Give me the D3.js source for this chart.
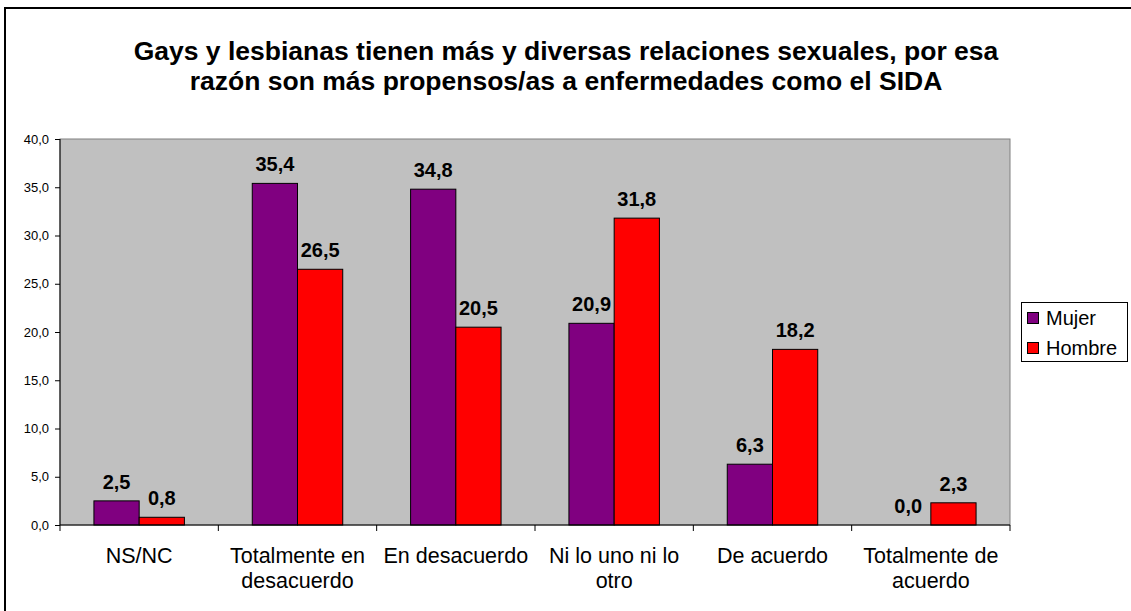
<!DOCTYPE html>
<html>
<head>
<meta charset="utf-8">
<script src="https://cdn.jsdelivr.net/npm/d3@7"></script>
<style>
  body { margin: 0; background: #fff; }
  text { font-family: Arial, "Liberation Sans", sans-serif; }
</style>
</head>
<body>
<svg id="chart" width="1131" height="611"></svg>
<script>
const titleLines = ["Gays y lesbianas tienen más y diversas relaciones sexuales, por esa",
                    "razón son más propensos/as a enfermedades como el SIDA"];
const categories = ["NS/NC", "Totalmente en desacuerdo", "En desacuerdo", "Ni lo uno ni lo otro", "De acuerdo", "Totalmente de acuerdo"];
const categoryLines = [["NS/NC"], ["Totalmente en", "desacuerdo"], ["En desacuerdo"], ["Ni lo uno ni lo", "otro"], ["De acuerdo"], ["Totalmente de", "acuerdo"]];
const seriesNames = ["Mujer", "Hombre"];
const mujer = [2.5, 35.4, 34.8, 20.9, 6.3, 0.0];
const hombre = [0.8, 26.5, 20.5, 31.8, 18.2, 2.3];
const yTicks = [0, 5, 10, 15, 20, 25, 30, 35, 40];
const colors = ["#800080", "#FF0000"];

const svg = d3.select("#chart");
const plot = {left: 60, right: 1010, top: 139, bottom: 525};

// outer frame
svg.append("rect").attr("x", 5).attr("y", 8).attr("width", 1140).attr("height", 620)
  .attr("fill", "none").attr("stroke", "#000").attr("stroke-width", 2);

// title
const title = svg.append("text").attr("text-anchor", "middle")
  .attr("font-weight", "bold").attr("font-size", 26.5).attr("fill", "#000");
titleLines.forEach((l, i) => title.append("tspan").attr("x", 566).attr("y", 60 + i * 30).text(l));

const x0 = d3.scaleBand().domain(categories).range([plot.left, plot.right]).padding(0);
const x1 = d3.scaleBand().domain(seriesNames).range([0, x0.bandwidth()]).paddingInner(0).paddingOuter(0.75);
const y = d3.scaleLinear().domain([0, 40]).range([plot.bottom, plot.top]);

// plot background
svg.append("rect").attr("x", plot.left).attr("y", plot.top)
  .attr("width", plot.right - plot.left).attr("height", plot.bottom - plot.top)
  .attr("fill", "#C0C0C0").attr("stroke", "#808080").attr("stroke-width", 1);

// bars
const data = categories.map((c, i) => ({cat: c, vals: [mujer[i], hombre[i]]}));
const groups = svg.append("g").selectAll("g").data(data).join("g")
  .attr("transform", d => `translate(${x0(d.cat)},0)`);
groups.selectAll("rect").data(d => d.vals.map((v, j) => ({s: seriesNames[j], v, j}))).join("rect")
  .attr("x", d => x1(d.s)).attr("width", x1.bandwidth())
  .attr("y", d => y(d.v)).attr("height", d => y(0) - y(d.v))
  .attr("fill", d => colors[d.j]).attr("stroke", "#000").attr("stroke-width", 1);
groups.selectAll("text").data(d => d.vals.map((v, j) => ({s: seriesNames[j], v, j}))).join("text")
  .attr("x", d => x1(d.s) + x1.bandwidth() / 2).attr("y", d => y(d.v) - 12)
  .attr("text-anchor", "middle").attr("font-weight", "bold").attr("font-size", 20)
  .text(d => d3.format(".1f")(d.v).replace(".", ","));

// y axis
const yAxis = d3.axisLeft(y).tickValues(yTicks).tickSize(5).tickSizeOuter(0)
  .tickFormat(d => d3.format(".1f")(d).replace(".", ","));
const gy = svg.append("g").attr("transform", `translate(${plot.left},0)`).call(yAxis);
gy.select(".domain").attr("stroke", "#000").attr("d", `M0,${plot.top}V${plot.bottom}`);
gy.selectAll(".tick line").attr("stroke", "#000");
gy.selectAll(".tick text").attr("font-size", 13).attr("fill", "#000").attr("font-family", "Arial, 'Liberation Sans', sans-serif").attr("x", -11);

// x axis
const gx = svg.append("g").attr("transform", `translate(0,${plot.bottom})`);
gx.append("line").attr("x1", plot.left).attr("x2", plot.right).attr("stroke", "#000");
const boundaries = categories.map(c => x0(c)).concat([plot.right]);
gx.selectAll("line.tick").data(boundaries).join("line").attr("class", "tick")
  .attr("x1", d => d).attr("x2", d => d).attr("y1", 0).attr("y2", 6).attr("stroke", "#000");
gx.selectAll("text").data(categories).join("text")
  .attr("text-anchor", "middle").attr("font-size", 21.5).attr("fill", "#000")
  .each(function(c, i) {
    const t = d3.select(this);
    categoryLines[i].forEach((l, k) => t.append("tspan")
      .attr("x", x0(c) + x0.bandwidth() / 2).attr("y", 38 + k * 25).text(l));
  });

// legend
const lg = svg.append("g");
lg.append("rect").attr("x", 1021.5).attr("y", 302.5).attr("width", 106).attr("height", 59)
  .attr("fill", "#fff").attr("stroke", "#000");
seriesNames.forEach((s, i) => {
  lg.append("rect").attr("x", 1027.5).attr("y", 312.5 + i * 30).attr("width", 11).attr("height", 11)
    .attr("fill", colors[i]).attr("stroke", "#000");
  lg.append("text").attr("x", 1046).attr("y", 324.5 + i * 30).attr("font-size", 20).text(s);
});
</script>
</body>
</html>
